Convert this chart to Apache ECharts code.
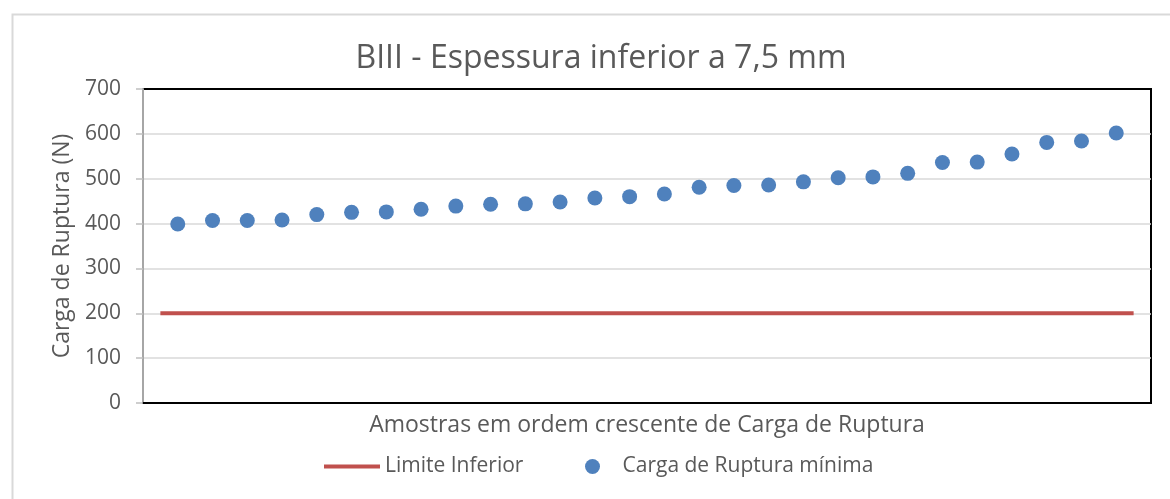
<!DOCTYPE html>
<html>
<head>
<meta charset="utf-8">
<script src="https://cdn.jsdelivr.net/npm/echarts@6/dist/echarts.min.js"></script>
<style>
  html, body { margin: 0; padding: 0; background: #fff; }
  #chart { width: 1170px; height: 499px; }
</style>
</head>
<body>
<div id="chart"></div>
<script>
// amostras ordenadas (posição 1..28) e carga de ruptura mínima (N)
var samples = [1, 2, 3, 4, 5, 6, 7, 8, 9, 10, 11, 12, 13, 14, 15, 16, 17, 18, 19, 20, 21, 22, 23, 24, 25, 26, 27, 28];
var cargaRuptura = [399, 407, 407, 408, 420, 425, 426, 432, 439, 443, 444, 448, 457, 460, 466, 481, 485, 486, 493, 502, 504, 512, 536, 537, 555, 581, 584, 602];
// limite inferior
var limiteX = [0.5, 28.5];
var limiteValor = 200;
var yTicks = [0, 100, 200, 300, 400, 500, 600, 700];

var font = "Open Sans";
var textColor = "#595959";

var chart = echarts.init(document.getElementById("chart"));

var scatterData = samples.map(function (s, i) {
  return [s, cargaRuptura[i]];
});
var limiteData = limiteX.map(function (x) {
  return [x, limiteValor];
});

chart.setOption({
  animation: false,
  backgroundColor: "#fff",
  textStyle: { fontFamily: font },
  graphic: [
    {
      type: "rect",
      left: 10,
      top: 12,
      shape: { width: 1200, height: 600 },
      style: { fill: "none", stroke: "#d9d9d9", lineWidth: 2 },
      z: -1
    }
  ],
  title: {
    text: "BIII - Espessura inferior a 7,5 mm",
    left: 596,
    top: 38,
    textAlign: "center",
    textStyle: { fontFamily: font, fontSize: 32, fontWeight: "normal", color: textColor }
  },
  legend: [
    {
      left: 319,
      top: 451,
      icon: "rect",
      itemWidth: 56,
      itemHeight: 4,
      textStyle: { fontFamily: font, fontSize: 21, color: textColor },
      data: ["Limite Inferior"]
    },
    {
      left: 580,
      top: 451,
      icon: "circle",
      itemWidth: 50,
      itemHeight: 15,
      textStyle: { fontFamily: font, fontSize: 21, color: textColor },
      data: ["Carga de Ruptura mínima"]
    }
  ],
  // moldura preta da área do gráfico
  grid: { left: 143, right: 19, top: 89, bottom: 96, show: true, borderColor: "#000", borderWidth: 2 },
  xAxis: {
    type: "value",
    min: 0,
    max: 29,
    name: "Amostras em ordem crescente de Carga de Ruptura",
    nameLocation: "middle",
    nameGap: 11,
    nameTextStyle: { fontFamily: font, fontSize: 23, color: textColor },
    axisLine: { show: true, onZero: false, lineStyle: { color: "#000", width: 2 } },
    axisTick: { show: false },
    axisLabel: { show: false },
    splitLine: { show: false }
  },
  yAxis: {
    type: "value",
    min: yTicks[0],
    max: yTicks[yTicks.length - 1],
    interval: 100,
    name: "Carga de Ruptura (N)",
    nameLocation: "middle",
    nameGap: 68,
    nameTextStyle: { fontFamily: font, fontSize: 23, color: textColor },
    axisLine: { show: true, onZero: false, lineStyle: { color: "#a6a6a6", width: 2 } },
    axisTick: { show: true, inside: false, length: 7, lineStyle: { color: "#bfbfbf", width: 1.5 } },
    axisLabel: { margin: 22, fontFamily: font, fontSize: 21, color: textColor },
    splitLine: { show: true, showMinLine: false, showMaxLine: false, lineStyle: { color: "#d9d9d9", width: 1.5 } }
  },
  series: [
    {
      name: "Limite Inferior",
      type: "line",
      data: limiteData,
      symbol: "none",
      lineStyle: { color: "#C0504D", width: 4 },
      itemStyle: { color: "#C0504D" },
      z: 2
    },
    {
      name: "Carga de Ruptura mínima",
      type: "scatter",
      data: scatterData,
      symbol: "circle",
      symbolSize: 15,
      itemStyle: { color: "#4F81BD", opacity: 1 },
      z: 3
    }
  ]
});
</script>
</body>
</html>
